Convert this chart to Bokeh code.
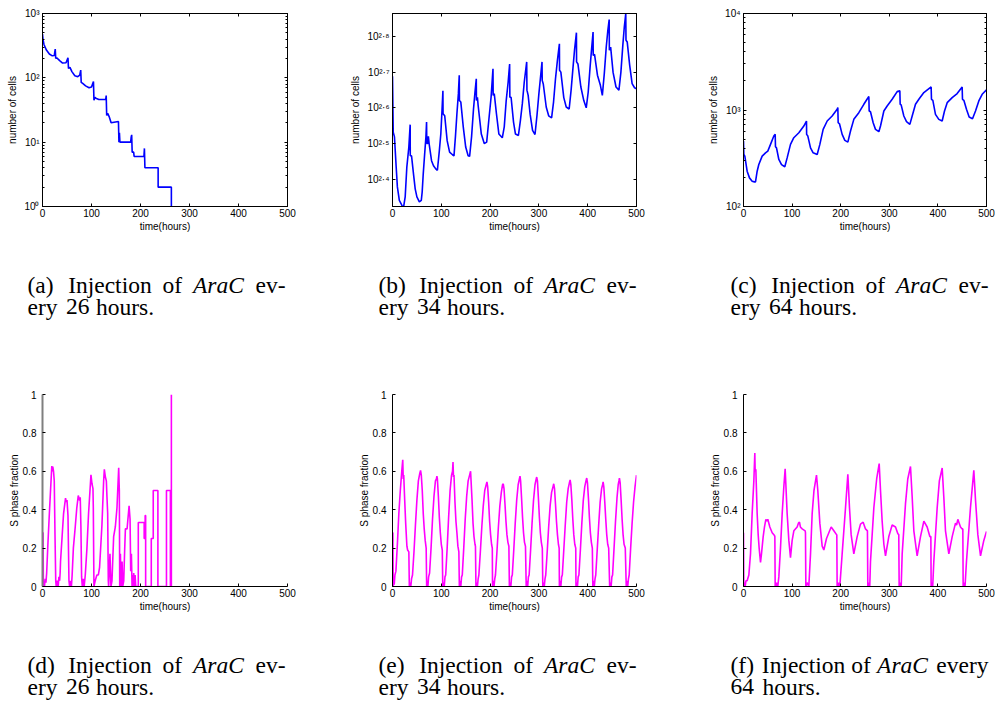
from bokeh.plotting import figure
from bokeh.models import Range1d, FixedTicker, LinearAxis, LogAxis
from bokeh.layouts import column, row
from bokeh.core.properties import value
from bokeh.embed import file_html
from bokeh.resources import INLINE

SANS = "Liberation Sans"
SERIF = "Liberation Serif"
BLUE = "#0000ff"
MAGENTA = "#ff00ff"

# ---------------------------------------------------------------- axes
HOUR_TICKS = [0, 100, 200, 300, 400, 500]
FRACTION_TICKS = [0, 0.2, 0.4, 0.6, 0.8, 1]
FRACTION_LABELS = ["0", "0.2", "0.4", "0.6", "0.8", "1"]

CELL_TICKS_A = [1, 10, 100, 1000]
CELL_LABELS_A = ["10⁰", "10¹", "10²", "10³"]
CELL_TICKS_B = [251.19, 316.23, 398.11, 501.19, 630.96]
CELL_LABELS_B = ["10²·⁴", "10²·⁵", "10²·⁶", "10²·⁷", "10²·⁸"]
CELL_TICKS_C = [100, 1000, 10000]
CELL_LABELS_C = ["10²", "10³", "10⁴"]

# ---------------------------------------------------------------- (a) cells, AraC every 26 h
t_cells_26 = [0, 1, 3, 8, 14, 20, 24, 26, 27, 29,
              35, 41, 48, 52, 53, 56, 60, 66, 72, 76,
              78, 79, 82, 88, 95, 100, 104, 105, 107, 109,
              115, 129, 130, 131, 133, 136, 140, 155, 156, 157,
              158, 180, 181, 182, 183, 186, 187, 207, 208, 209,
              236, 236, 263, 263]
n_cells_26 = [480, 400, 330, 270, 235, 220, 222, 280, 200, 205,
              185, 170, 172, 205, 140, 145, 125, 108, 104, 110,
              132, 85, 82, 75, 70, 72, 88, 45, 50, 48,
              46, 46, 53, 26, 28, 25, 20, 21, 10, 14,
              10, 10, 12, 13, 7, 7, 6, 6, 8, 4,
              4, 2, 2, 1]

# ---------------------------------------------------------------- (b) cells, AraC every 34 h
t_cells_34 = [0, 1.5, 4, 7.5, 10, 14, 18, 20, 23, 26,
              29.4, 33.5, 36.2, 36.4, 39, 43, 46.5, 50, 55, 59,
              60.8, 63, 66, 68.5, 69.8, 70.3, 72, 73.5, 75, 80,
              84, 89, 92, 96, 99, 101.5, 103.3, 103.6, 107, 112,
              117, 123, 126, 129, 132, 135, 136.8, 137.2, 140, 145,
              150, 155, 158, 162, 166, 169, 171.7, 172, 174, 175.5,
              182, 188, 193, 198, 202, 205.9, 206.3, 208.5, 213, 218,
              225, 229, 233, 237, 240, 240.5, 243, 248, 252, 258,
              262, 266, 270, 275, 275.5, 278, 282, 287, 292, 296,
              300, 303, 306.4, 306.8, 309, 315, 320, 326, 330, 334,
              338, 342, 342.3, 345, 351, 356, 362, 366, 370, 373,
              376.9, 377.2, 380, 386, 392, 397, 401, 405, 408, 411,
              411.3, 414, 420, 426, 430, 434, 438, 441, 444, 444.4,
              447, 452, 458, 464, 468, 472, 475, 478, 478.5, 481,
              486, 491, 496, 500]
n_cells_34 = [488, 340, 330, 272, 239, 219, 214, 211, 211, 224,
              272, 309, 357, 292, 292, 260, 236, 224, 217, 219,
              231, 260, 297, 330, 363, 316, 316, 331, 316, 283,
              274, 268, 266, 302, 336, 392, 444, 383, 378, 322,
              299, 294, 292, 331, 383, 436, 491, 417, 413, 352,
              309, 292, 291, 330, 395, 440, 480, 417, 426, 404,
              336, 316, 319, 375, 426, 512, 431, 436, 383, 336,
              328, 352, 417, 470, 528, 426, 426, 363, 336, 333,
              366, 408, 470, 535, 446, 431, 382, 344, 335, 378,
              436, 480, 535, 475, 464, 400, 378, 373, 413, 480,
              541, 601, 507, 501, 425, 400, 395, 446, 518, 577,
              646, 535, 528, 455, 417, 398, 440, 520, 582, 649,
              558, 562, 491, 460, 431, 496, 589, 650, 703, 577,
              589, 500, 455, 446, 500, 596, 670, 731, 615, 608,
              524, 465, 453, 450]

# ---------------------------------------------------------------- (c) cells, AraC every 64 h
t_cells_64 = [0, 0.7, 2.7, 7.5, 12.3, 17.8, 22.6, 24.7, 28.1, 31.5,
              38.4, 45.3, 50, 55.6, 62.4, 65.2, 65.8, 67.9, 72.7, 78.2,
              85, 89.8, 96.7, 103.5, 113.9, 124.1, 129.6, 129.9, 132.4, 137.9,
              143.3, 151.6, 157.1, 163.9, 172.2, 182.4, 192.7, 194.1, 194.8, 197.5,
              203, 208.5, 214.7, 220.2, 227, 237.3, 247.6, 254.5, 257.9, 258.6,
              261.3, 266.8, 271.6, 278.5, 281.9, 288.8, 295.6, 305.9, 316.2, 321.7,
              322.4, 324.4, 329.9, 335.4, 342.3, 347.1, 353.9, 360.8, 371.1, 386.1,
              386.8, 389.6, 395, 401.9, 408.8, 413.6, 419.1, 429.4, 439.6, 449.9,
              450.6, 453.4, 458.8, 464.3, 471.2, 477.4, 484.2, 491.1, 500]
n_cells_64 = [476, 346, 332, 232, 198, 183, 180, 180, 232, 272,
              333, 360, 375, 440, 537, 559, 416, 405, 307, 272,
              258, 319, 440, 516, 581, 682, 769, 559, 537, 405,
              360, 346, 440, 630, 769, 866, 1016, 1058, 738, 720,
              559, 484, 465, 605, 800, 938, 1146, 1300, 1380, 977,
              960, 738, 630, 596, 682, 977, 1101, 1291, 1550, 1578,
              1146, 1130, 866, 757, 710, 866, 1146, 1291, 1515, 1734,
              1291, 1260, 901, 800, 769, 977, 1191, 1343, 1479, 1734,
              1291, 1260, 1016, 846, 813, 977, 1241, 1455, 1615]

# ---------------------------------------------------------------- (d) S phase, AraC every 26 h
t_sfrac_26 = [0, 1.2, 1.8, 3, 4, 5.5, 7, 8.5, 11, 14,
              17, 19, 20, 21, 22.5, 24, 25.5, 27, 28, 30,
              32, 33.5, 35, 36, 36.8, 40, 43, 47, 48.5, 50,
              52, 54, 55.3, 57, 59, 60.5, 63, 66.8, 70, 73,
              75.7, 77, 78.4, 79.8, 81.2, 83, 85, 87.3, 90.7, 94,
              98.9, 101, 103, 103.7, 105, 107.5, 111, 114, 116.5, 121.3,
              124.8, 126.2, 128.3, 130.3, 131.6, 133, 134.3, 135, 137.7, 139.7,
              141.8, 145.2, 148.6, 152, 155.5, 156.8, 157.6, 159, 160.3, 162.4,
              163.7, 165.8, 167.8, 169.2, 172.6, 176, 176.7, 178.7, 180, 181.4,
              182.8, 184, 185.5, 186.2, 187.6, 189, 190.3, 195.5, 195.5, 207.5,
              207.5, 209.5, 209.5, 210.5, 210.5, 222, 222, 226, 226, 235.5,
              235.5, 253, 253, 261, 261, 263, 263]
v_sfrac_26 = [0.28, 0.28, 0, 0.02, 0, 0.04, 0.02, 0.07, 0.22, 0.38,
              0.53, 0.627, 0.6, 0.625, 0.6, 0.55, 0.27, 0.03, 0, 0.03,
              0, 0.05, 0.03, 0.07, 0.13, 0.26, 0.38, 0.46, 0.44, 0.45,
              0.37, 0.03, 0, 0.03, 0, 0.06, 0.2, 0.31, 0.41, 0.474,
              0.448, 0.465, 0.31, 0.05, 0, 0.04, 0, 0.06, 0.2, 0.38,
              0.582, 0.535, 0.51, 0.41, 0, 0.03, 0.06, 0.06, 0.1, 0.32,
              0.55, 0.61, 0.57, 0.55, 0.465, 0.38, 0.03, 0, 0.17, 0,
              0.03, 0.26, 0.31, 0.41, 0.618, 0.5, 0, 0.17, 0, 0.13,
              0, 0.03, 0.2, 0.3, 0.3, 0.4, 0.42, 0.35, 0.08, 0.17,
              0, 0.06, 0, 0.07, 0, 0.06, 0, 0, 0.333, 0.333,
              0.25, 0.25, 0.37, 0.37, 0, 0, 0.25, 0.25, 0.5, 0.5,
              0, 0, 0.5, 0.5, 0, 0, 1.0]

# ---------------------------------------------------------------- (e) S phase, AraC every 34 h
t_sfrac_34 = [0, 0.8, 1.5, 2.5, 3.5, 5, 7, 10, 13, 16, 19, 21, 22, 23, 25, 27, 29.5, 31, 33.5, 34.5,
              36, 37.5, 39, 41, 44, 47, 50, 53, 56, 57.5, 59, 61, 63, 65, 67, 69, 70,
              71.5, 72.5, 74, 76, 79, 82, 85, 88, 90, 91, 92, 94, 96, 98, 100, 102, 103,
              104.5, 106, 107.5, 109, 112, 115, 118, 121, 123, 124, 125, 126, 128, 130, 132, 134, 136, 137,
              138.5, 140, 141.5, 143, 146, 149, 152, 155, 158, 160, 161, 163, 165, 167, 169, 170, 171,
              172.5, 174, 175.5, 177, 180, 183, 186, 189, 192, 193.5, 195, 197, 199, 201, 203, 204.5, 205,
              206.5, 208, 209.5, 211, 214, 217, 220, 223, 225.5, 227, 228.5, 230.5, 232.5, 234.5, 236.5, 238.5, 239.5,
              241, 242.5, 244, 245.5, 248.5, 251.5, 254.5, 257.5, 260, 261.3, 262.5, 264.5, 266.5, 268.5, 270.5, 272.5, 274,
              275.5, 277, 278.5, 280, 283, 286, 289, 292, 294.5, 295.5, 297, 299, 301, 303, 305, 307, 308,
              309.5, 311, 312.5, 314, 317, 320, 323, 326, 329, 330.4, 332, 334, 336, 338, 340, 341.5, 342,
              343.5, 345, 346.5, 348, 351, 354, 357, 360, 362.5, 364, 365.5, 367.5, 369.5, 371.5, 373.5, 375.5, 376,
              377.5, 379, 380.5, 382, 385, 388, 391, 394, 396.5, 398, 399.5, 401.5, 403.5, 405.5, 407.5, 409.5, 410.5,
              412, 413.5, 415, 416.5, 419.5, 422.5, 425.5, 428.5, 430.5, 431.6, 433, 435, 437, 439, 441, 443, 445,
              446.5, 448, 449.5, 451, 454, 457, 460, 462.5, 464, 465, 466.5, 468.5, 470.5, 472.5, 474.5, 477, 479,
              480.5, 482, 483.5, 485, 488, 491, 494, 497, 500]
v_sfrac_34 = [0.28, 0.28, 0, 0.03, 0.01, 0.06, 0.08, 0.22, 0.38, 0.5, 0.6, 0.66, 0.56, 0.58, 0.45, 0.33, 0.21, 0.19, 0.18, 0,
              0.02, 0, 0.04, 0.06, 0.18, 0.32, 0.45, 0.55, 0.59, 0.605, 0.58, 0.5, 0.38, 0.3, 0.24, 0.2, 0,
              0.03, 0, 0.05, 0.07, 0.2, 0.35, 0.47, 0.55, 0.56, 0.575, 0.56, 0.47, 0.36, 0.28, 0.22, 0.19, 0,
              0.02, 0, 0.05, 0.06, 0.2, 0.36, 0.5, 0.58, 0.6, 0.648, 0.57, 0.58, 0.44, 0.34, 0.28, 0.21, 0.18, 0,
              0.03, 0, 0.05, 0.06, 0.2, 0.35, 0.47, 0.55, 0.58, 0.6, 0.55, 0.45, 0.33, 0.26, 0.22, 0.21, 0,
              0.02, 0, 0.04, 0.06, 0.18, 0.31, 0.42, 0.5, 0.53, 0.545, 0.52, 0.44, 0.34, 0.27, 0.22, 0.2, 0,
              0.03, 0, 0.04, 0.06, 0.18, 0.31, 0.42, 0.49, 0.53, 0.535, 0.51, 0.43, 0.34, 0.27, 0.23, 0.21, 0,
              0.02, 0, 0.05, 0.06, 0.19, 0.33, 0.45, 0.53, 0.56, 0.575, 0.55, 0.46, 0.36, 0.28, 0.23, 0.21, 0,
              0.03, 0, 0.05, 0.06, 0.19, 0.33, 0.45, 0.53, 0.56, 0.57, 0.55, 0.46, 0.36, 0.28, 0.23, 0.2, 0,
              0.02, 0, 0.04, 0.06, 0.18, 0.31, 0.42, 0.49, 0.52, 0.535, 0.51, 0.43, 0.34, 0.27, 0.22, 0.2, 0,
              0.03, 0, 0.05, 0.06, 0.19, 0.32, 0.44, 0.51, 0.54, 0.555, 0.53, 0.45, 0.35, 0.27, 0.22, 0.2, 0,
              0.02, 0, 0.05, 0.06, 0.19, 0.33, 0.45, 0.52, 0.55, 0.565, 0.54, 0.46, 0.36, 0.28, 0.23, 0.2, 0,
              0.03, 0, 0.04, 0.06, 0.19, 0.32, 0.44, 0.51, 0.53, 0.545, 0.52, 0.44, 0.35, 0.27, 0.22, 0.2, 0,
              0.02, 0, 0.05, 0.06, 0.2, 0.34, 0.46, 0.53, 0.55, 0.565, 0.54, 0.45, 0.35, 0.27, 0.22, 0.2, 0,
              0.03, 0, 0.04, 0.06, 0.2, 0.33, 0.44, 0.52, 0.58]

# ---------------------------------------------------------------- (f) S phase, AraC every 64 h
t_sfrac_64 = [0, 0.7, 2, 3.5, 5, 7.5, 11, 14.4, 17.8, 21.3, 23.3, 24, 25.4, 28.1, 30.2, 32.2, 35, 37, 40.5, 43.2,
              46, 48, 50, 54.2, 59, 63.8, 64.5, 65.2,
              68, 70.6, 72.7, 76.1, 79.6, 83, 85.7, 87.1, 89.8, 93.3, 96.7, 100.1, 103.6, 110.4, 113, 115.2, 117,
              120.7, 126.9, 127.5, 128.3,
              131, 134.4, 137.9, 141.3, 145, 150.2, 152.9, 157.1, 161.9, 165.3, 170.8, 175.6, 180.4, 185.9, 191.4,
              192, 192.7,
              195.5, 198.2, 203, 209.9, 214.7, 218.1, 221.5, 227, 233.9, 240.7, 246.2, 251, 255, 255.8,
              258.5, 259.8, 261.3, 268.2, 274, 279.2, 281.9, 285.3, 288.8, 292.2, 299, 305.9, 312.8, 317.6, 319.5, 320.3,
              323, 324.5, 326.5, 333.3, 338, 343.6, 347.1, 350.5, 357.3, 364.2, 371.1, 377.9, 383.4, 385.5, 386.1,
              388, 389.3, 391.6, 398.5, 403, 408.8, 412.2, 415.6, 422.5, 429.4, 436.2, 438.5, 441, 446.5, 449.9,
              451.3, 452,
              454.5, 455.8, 458.8, 467, 473.9, 477.4, 482.2, 487.7, 494.5, 500]
v_sfrac_64 = [0.28, 0, 0.02, 0, 0.03, 0.03, 0.06, 0.17, 0.38, 0.55, 0.695, 0.6, 0.61, 0.38, 0.27, 0.2, 0.125, 0.17, 0.26, 0.31,
              0.35, 0.34, 0.35, 0.31, 0.28, 0.265, 0.26, 0,
              0.02, 0, 0.05, 0.2, 0.38, 0.52, 0.613, 0.535, 0.38, 0.24, 0.15, 0.24, 0.29, 0.31, 0.33, 0.335, 0.31,
              0.3, 0.29, 0.28, 0,
              0.02, 0, 0.17, 0.38, 0.5, 0.58, 0.5, 0.33, 0.21, 0.19, 0.25, 0.28, 0.31, 0.29, 0.27,
              0.27, 0,
              0.02, 0, 0.17, 0.41, 0.584, 0.41, 0.27, 0.17, 0.26, 0.325, 0.335, 0.3, 0.29, 0,
              0.02, 0, 0.13, 0.41, 0.56, 0.64, 0.5, 0.34, 0.22, 0.16, 0.26, 0.32, 0.31, 0.275, 0.27, 0,
              0.02, 0, 0.17, 0.43, 0.56, 0.625, 0.465, 0.29, 0.16, 0.26, 0.34, 0.31, 0.26, 0.26, 0,
              0.02, 0, 0.13, 0.41, 0.55, 0.617, 0.465, 0.29, 0.17, 0.26, 0.33, 0.32, 0.35, 0.31, 0.3,
              0.3, 0,
              0.02, 0, 0.13, 0.41, 0.605, 0.45, 0.27, 0.16, 0.24, 0.287]

# ---------------------------------------------------------------- captions
CAPTION_TAGS = ["(a)", "(b)", "(c)", "(d)", "(e)", "(f)"]
CAPTION_HOURS = ["26", "34", "64", "26", "34", "64"]


def style_axis(ax):
    ax.axis_line_color = "black"
    ax.major_tick_line_color = "black"
    ax.minor_tick_line_color = "black"
    ax.major_tick_in = 3
    ax.major_tick_out = 0
    ax.minor_tick_in = 0
    ax.minor_tick_out = 0
    ax.major_label_text_font = SANS
    ax.major_label_text_font_size = "10px"
    ax.major_label_text_color = "black"
    ax.axis_label_text_font = SANS
    ax.axis_label_text_font_size = "10px"
    ax.axis_label_text_font_style = "normal"
    ax.axis_label_text_color = "black"


def blank_labels(ax, ticks):
    # tick marks only, no numbers (the box's top and right sides)
    ax.major_label_overrides = {tk: "" for tk in ticks}
    ax.major_label_standoff = 0


def base_panel(geom, y_range, log):
    fw, fh, bl, br, bt, bb = geom
    p = figure(frame_width=fw, frame_height=fh,
               min_border_left=bl, min_border_right=br,
               min_border_top=bt, min_border_bottom=bb,
               x_range=Range1d(0, 500), y_range=y_range,
               y_axis_type="log" if log else "linear",
               output_backend="svg", toolbar_location=None,
               background_fill_color="white", border_fill_color="white")
    p.grid.visible = False
    xa = p.xaxis[0]
    style_axis(xa)
    xa.ticker = FixedTicker(ticks=HOUR_TICKS)
    xa.axis_label = "time(hours)"
    xa.major_label_standoff = 2
    xa.axis_label_standoff = 1
    return p


def cells_panel(geom, t, n, lo, hi, ticks, labels, minors, lab_standoff):
    p = base_panel(geom, Range1d(lo, hi), True)
    p.outline_line_color = "black"
    p.outline_line_width = 1
    ya = p.yaxis[0]
    style_axis(ya)
    ya.ticker = FixedTicker(ticks=ticks, minor_ticks=minors)
    ya.major_label_overrides = dict(zip(ticks, labels))
    ya.major_label_standoff = 3
    ya.minor_tick_in = 2
    ya.axis_label = "number of cells"
    ya.axis_label_standoff = lab_standoff

    right = LogAxis(ticker=FixedTicker(ticks=ticks, minor_ticks=minors))
    style_axis(right)
    blank_labels(right, ticks)
    right.minor_tick_in = 2
    p.add_layout(right, "right")
    top = LinearAxis(ticker=FixedTicker(ticks=HOUR_TICKS))
    style_axis(top)
    blank_labels(top, HOUR_TICKS)
    p.add_layout(top, "above")

    p.line(t, n, line_color=BLUE, line_width=1.6)
    return p


def fraction_panel(geom, t, v, lab_standoff, yline_color="black", yline_width=1):
    p = base_panel(geom, Range1d(0, 1), False)
    p.outline_line_color = None
    ya = p.yaxis[0]
    style_axis(ya)
    ya.ticker = FixedTicker(ticks=FRACTION_TICKS)
    ya.major_label_overrides = dict(zip(FRACTION_TICKS, FRACTION_LABELS))
    ya.major_label_standoff = 6
    ya.axis_label = "S phase fraction"
    ya.axis_label_standoff = lab_standoff
    ya.axis_line_color = yline_color
    ya.axis_line_width = yline_width
    p.line(t, v, line_color=MAGENTA, line_width=1.6)
    return p


def caption_panel(width, height, start, tag, hours, wide_tag_line, y1, y2):
    # a bare canvas in pixel units (y measured down from its top edge)
    c = figure(frame_width=width, frame_height=height, min_border=0,
               x_range=Range1d(0, width), y_range=Range1d(height, 0),
               x_axis_location=None, y_axis_location=None,
               output_backend="svg", toolbar_location=None,
               background_fill_color="white", border_fill_color="white")
    c.grid.visible = False
    c.outline_line_color = None

    def word(text, x, y, align, italic=False):
        c.text(x=[start + x], y=[y], text=[text],
               text_font=value(SERIF), text_font_size=value("23.5px"),
               text_font_style=value("italic" if italic else "normal"),
               text_align=value(align), text_baseline=value("alphabetic"),
               text_color="black")

    if wide_tag_line:
        word(tag, 0, y1, "left")
        word("Injection", 73.1, y1, "center")
        word("of", 130.6, y1, "center")
        word("AraC", 172, y1, "center", True)
        word("every", 258, y1, "right")
        word(hours, 0, y2, "left")
        word("hours.", 32, y2, "left")
    else:
        word(tag, 0, y1, "left")
        word("Injection", 82.4, y1, "center")
        word("of", 144.7, y1, "center")
        word("AraC", 190.9, y1, "center", True)
        word("ev-", 258, y1, "right")
        word("ery", 0, y2, "left")
        word(hours, 38.5, y2, "left")
        word("hours.", 68.5, y2, "left")
    return c


minor_a = [m * 10 ** k for k in range(0, 3) for m in range(2, 10)]
minor_c = [m * 10 ** k for k in range(2, 4) for m in range(2, 10)]

# frame width, frame height, left, right, top, bottom borders
GEOM_TOP = [(245, 193, 42, 53, 13, 45), (244, 193, 52, 44, 13, 45), (243, 193, 63, 9, 13, 45)]
GEOM_BOT = [(245, 192, 42, 53, 14, 45), (244, 192, 52, 44, 14, 45), (243, 192, 63, 9, 14, 45)]
COL_WIDTHS = [340, 340, 315]
CAPTION_START = [27, 38, 50]
LINE1_Y, LINE2_Y = 33, 55

pa = cells_panel(GEOM_TOP[0], t_cells_26, n_cells_26, 1, 1000, CELL_TICKS_A, CELL_LABELS_A, minor_a, 3)
pb = cells_panel(GEOM_TOP[1], t_cells_34, n_cells_34, 210.6, 731, CELL_TICKS_B, CELL_LABELS_B, [], 3)
pc = cells_panel(GEOM_TOP[2], t_cells_64, n_cells_64, 100, 10000, CELL_TICKS_C, CELL_LABELS_C, minor_c, 3)

pd = fraction_panel(GEOM_BOT[0], t_sfrac_26, v_sfrac_26, 0, "#7f7f7f", 2)
pe = fraction_panel(GEOM_BOT[1], t_sfrac_34, v_sfrac_34, 0)
pf = fraction_panel(GEOM_BOT[2], t_sfrac_64, v_sfrac_64, 0)

caps_top = [caption_panel(COL_WIDTHS[i], 129, CAPTION_START[i], CAPTION_TAGS[i],
                          CAPTION_HOURS[i], False, LINE1_Y, LINE2_Y) for i in range(3)]
caps_bot = [caption_panel(COL_WIDTHS[i], 72, CAPTION_START[i], CAPTION_TAGS[3 + i],
                          CAPTION_HOURS[3 + i], i == 2, LINE1_Y, LINE2_Y) for i in range(3)]

page = column(row(pa, pb, pc), row(*caps_top), row(pd, pe, pf), row(*caps_bot))
open("out.html", "w", encoding="utf-8").write(file_html(page, INLINE))
